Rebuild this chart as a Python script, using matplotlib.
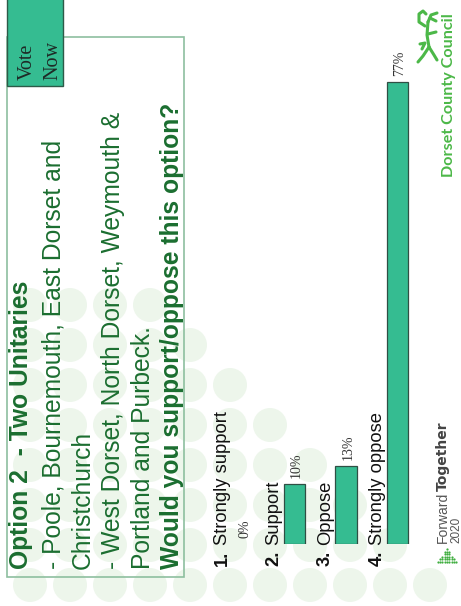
import matplotlib.pyplot as plt
from matplotlib.patches import Rectangle, Circle

plt.rcParams['font.family'] = ['Liberation Sans', 'DejaVu Sans']

# Poll results
numbers = ['1.', '2.', '3.', '4.']
answers = ['Strongly support', 'Support', 'Oppose', 'Strongly oppose']
percent = [0, 10, 13, 77]

title_lines = [
    ('Option 2  - Two Unitaries', 'bold'),
    ('- Poole, Bournemouth, East Dorset and', 'normal'),
    ('Christchurch', 'normal'),
    ('- West Dorset, North Dorset, Weymouth &', 'normal'),
    ('Portland and Purbeck.', 'normal'),
    ('Would you support/oppose this option?', 'bold'),
]

teal = '#35bc91'
dark_green = '#1b6e30'
council_green = '#4cb848'

fig = plt.figure(figsize=(4.61, 6.06), dpi=100)

# slide background in pixel units (y runs downwards)
bg = fig.add_axes([0, 0, 1, 1])
bg.set_xlim(0, 461)
bg.set_ylim(606, 0)
bg.axis('off')

# faded dot pattern in the lower left corner
for j in range(8):
    for k in range(11 - j):
        bg.add_patch(Circle((30 + 40 * k, 585 - 40 * j), 17,
                            color='#edf6eb', lw=0, zorder=0))

# question box
bg.add_patch(Rectangle((7, 37), 177, 540, fill=False,
                       edgecolor='#8dbf9f', lw=1.2, zorder=2))
baselines = [28, 60, 90, 120, 150, 179]
for (line, weight), bx in zip(title_lines, baselines):
    bg.text(bx, 569, line, rotation=90, rotation_mode='anchor',
            ha='left', va='baseline', fontsize=17.7, fontweight=weight,
            color=dark_green, zorder=3)

# "Vote Now" tab
bg.add_patch(Rectangle((7, -2), 56, 88, facecolor=teal,
                       edgecolor='#2d5a48', lw=1, zorder=4))
bg.text(32, 80, 'Vote', rotation=90, rotation_mode='anchor', ha='left',
        va='baseline', fontsize=14.5, family='Liberation Serif',
        color='#1e2a26', zorder=5)
bg.text(57, 80, 'Now', rotation=90, rotation_mode='anchor', ha='left',
        va='baseline', fontsize=14.5, family='Liberation Serif',
        color='#1e2a26', zorder=5)

# council logo
bg.text(453, 177, 'Dorset County Council', rotation=90, rotation_mode='anchor',
        ha='left', va='baseline', fontsize=11.6, fontweight='bold',
        family='Lato', color=council_green)
lion = [
    [(428, 22), (427, 35), (429, 47)],
    [(429, 47), (423, 56), (418, 62)],
    [(429, 47), (434, 55), (437, 60)],
    [(428, 22), (431, 15), (437, 13)],
    [(430, 18), (436, 21)],
    [(425, 26), (419, 22), (419, 14), (423, 11), (426, 14)],
    [(428, 34), (436, 32)],
    [(420, 44), (425, 43), (422, 49)],
]
for stroke in lion:
    xs, ys = zip(*stroke)
    bg.plot(xs, ys, color=council_green, lw=2.2, solid_capstyle='round')

# Forward Together 2020 logo
bg.text(447, 543, 'Forward', rotation=90, rotation_mode='anchor', ha='left',
        va='baseline', fontsize=10, color='#555555')
bg.text(447, 421, 'Together', rotation=90, rotation_mode='anchor', ha='right',
        va='baseline', fontsize=10, fontweight='bold', family='DejaVu Sans',
        color='#444444')
bg.text(459, 543, '2020', rotation=90, rotation_mode='anchor', ha='left',
        va='baseline', fontsize=8.5, color='#555555')
for r, n in enumerate([1, 3, 3, 5, 7, 9]):
    for d in range(n):
        bg.plot(447 + (d - (n - 1) / 2) * 2.3, 549 + r * 2.6, 'o',
                ms=1.6, color='#3fae3f', mew=0)

# bar chart
ax = fig.add_axes([217.25 / 461, 62 / 606, 206 / 461, 540 / 606])
ax.patch.set_alpha(0)
ax.set_xlim(-0.5, 3.5)
ax.set_ylim(0, 90)
ax.axis('off')

pos = list(range(len(answers)))
ax.bar(pos, percent, width=0.41, color=teal, edgecolor='#2f4f44',
       linewidth=[0 if v == 0 else 0.9 for v in percent])

for i, (num, ans, v) in enumerate(zip(numbers, answers, percent)):
    ax.text(i - 0.31, -1.17, num, rotation=90, rotation_mode='anchor',
            ha='right', va='baseline', fontsize=13.2, fontweight='bold',
            color='#111111')
    ax.text(i - 0.31, -0.2, ans, rotation=90, rotation_mode='anchor',
            ha='left', va='baseline', fontsize=13.2, color='#111111')
    ax.annotate(f'{v}%', xy=(i, v), xytext=(1.5, 4.5),
                textcoords='offset points', rotation=90,
                rotation_mode='anchor', ha='left', va='center',
                fontsize=10, family='Liberation Serif', color='#333333')

fig.savefig('out.png', dpi=100)
